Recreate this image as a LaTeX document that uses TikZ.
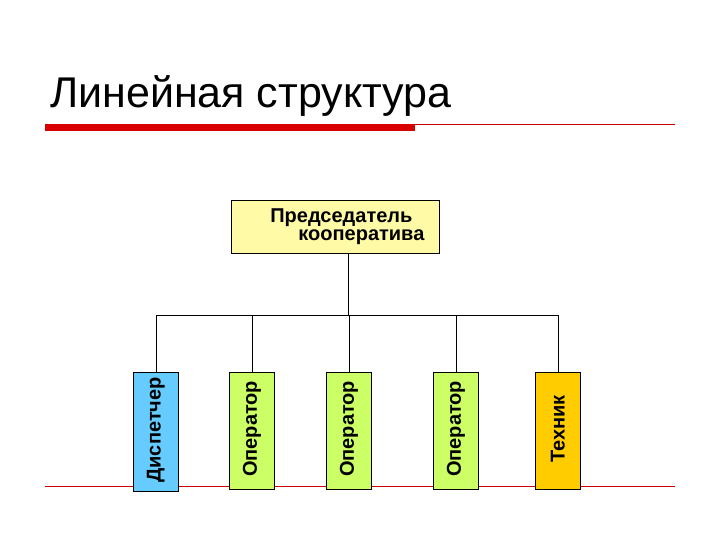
\documentclass[tikz,border=0pt]{standalone}
\usepackage{fontspec}
\setmainfont{Liberation Sans}
\begin{document}
\begin{tikzpicture}[x=1pt,y=-1pt,
  box/.style={draw=black,line width=0.8pt,inner sep=0pt,anchor=north west},
  vtext/.style={rotate=90,font=\bfseries\fontsize{20}{22}\selectfont,inner sep=0pt},
  conn/.style={draw=black,line width=0.8pt}]
\useasboundingbox (0,0) rectangle (720,540);
\node[anchor=base west,inner sep=0pt,font=\fontsize{43}{45}\selectfont] (title) at (50,108) {Линейная структура};
\fill[red!85!black] (45,124) rectangle (415,131);
\draw[red!80!black,line width=0.6pt] (415,124) -- (675,124);
\draw[red!80!black,line width=0.6pt] (45,486) -- (675,486);
\node[box,fill=yellow!35,minimum width=208pt,minimum height=53pt] (top) at (231,200) {};
\node[font=\bfseries\fontsize{20}{18}\selectfont,align=center] at ([xshift=6pt]top.center) {Председатель\\\hspace*{2em}кооператива};
\node[box,fill={rgb,255:red,102;green,204;blue,255},minimum width=45pt,minimum height=119pt] (d) at (133,372) {};
\node[box,fill={rgb,255:red,204;green,255;blue,102},minimum width=45pt,minimum height=117pt] (o1) at (229,372) {};
\node[box,fill={rgb,255:red,204;green,255;blue,102},minimum width=45pt,minimum height=117pt] (o2) at (326,372) {};
\node[box,fill={rgb,255:red,204;green,255;blue,102},minimum width=45pt,minimum height=117pt] (o3) at (433,372) {};
\node[box,fill={rgb,255:red,255;green,204;blue,0},minimum width=45pt,minimum height=117pt] (t) at (535,372) {};
\foreach \n/\s in {d/Диспетчер,o1/Оператор,o2/Оператор,o3/Оператор,t/Техник}
  \node[vtext] at ([yshift=2pt]\n.center) {\s};
\coordinate (bus) at (348,315);
\draw[conn] (bus |- top.south) -- (bus);
\draw[conn] (d.north |- bus) -- (t.north |- bus);
\foreach \n in {d,o1,o2,o3,t} \draw[conn] (\n.north |- bus) -- (\n.north);
\end{tikzpicture}
\end{document}
